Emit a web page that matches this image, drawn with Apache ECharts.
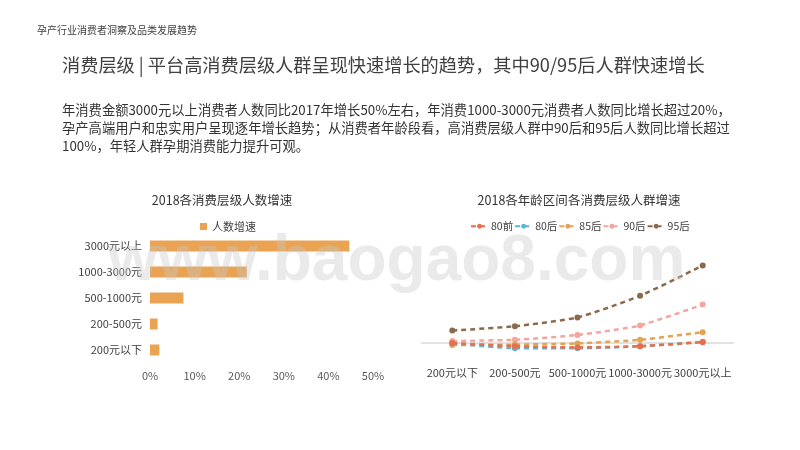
<!DOCTYPE html>
<html>
<head>
<meta charset="utf-8">
<script src="https://cdn.jsdelivr.net/npm/echarts@6/dist/echarts.min.js"></script>
<style>
html,body{margin:0;padding:0;background:#fff;}
#main{width:800px;height:450px;}
</style>
</head>
<body>
<div id="main"></div>
<script>
// ---- data ----
var barCategories = ['200元以下', '200-500元', '500-1000元', '1000-3000元', '3000元以上'];
var barName = '人数增速';
var barValues = [2.1, 1.7, 7.5, 21.7, 44.7];
var barTicks = [0, 10, 20, 30, 40, 50];

var lineCategories = ['200元以下', '200-500元', '500-1000元', '1000-3000元', '3000元以上'];
var lineNames = ['80前', '80后', '85后', '90后', '95后'];
var s80qian = [0, -8, -11, -8, 2];
var s80hou = [-1, -13, -13, -8, 3];
var s85hou = [-5, -4, -1, 8, 27];
var s90hou = [5, 8, 20, 44, 96];
var s95hou = [31, 42, 64, 118, 194];

var headerText = '孕产行业消费者洞察及品类发展趋势';
var titleText = '消费层级 | 平台高消费层级人群呈现快速增长的趋势，其中90/95后人群快速增长';
var paraLines = [
  '年消费金额3000元以上消费者人数同比2017年增长50%左右，年消费1000-3000元消费者人数同比增长超过20%，',
  '孕产高端用户和忠实用户呈现逐年增长趋势；从消费者年龄段看，高消费层级人群中90后和95后人数同比增长超过',
  '100%，年轻人群孕期消费能力提升可观。'
];
var leftTitle = '2018各消费层级人数增速';
var rightTitle = '2018各年龄区间各消费层级人群增速';
var watermark = 'www.baogao8.com';

// ---- chart ----
var FONT = '"Noto Sans CJK SC", "Noto Sans", sans-serif';
var lineColors = ['#e6704b', '#5bb4d6', '#e3a353', '#f3a59f', '#8b6a4c'];
var lineData = [s80qian, s80hou, s85hou, s90hou, s95hou];

var chart = echarts.init(document.getElementById('main'), null, {renderer: 'canvas'});

var lineSeries = lineNames.map(function (n, i) {
  var s = {
    name: n,
    type: 'line',
    xAxisIndex: 1,
    yAxisIndex: 1,
    data: lineData[i],
    symbol: 'circle',
    symbolSize: 6,
    smooth: 0.2,
    itemStyle: {color: lineColors[i]},
    lineStyle: {color: lineColors[i], width: 2.5, type: [5, 4]},
    z: 3 + (4 - i)
  };
  if (i === 0) {
    s.markLine = {
      silent: true,
      symbol: 'none',
      label: {show: false},
      lineStyle: {color: '#d9d9d9', width: 1.5, type: 'solid'},
      data: [{yAxis: 0}],
      z: 1
    };
  }
  return s;
});

var graphics = [
  {type: 'text', x: 37, y: 30, style: {text: headerText, font: '10px ' + FONT, fill: '#404040', textVerticalAlign: 'middle'}},
  {type: 'text', x: 62, y: 65, style: {text: titleText, font: '18.2px ' + FONT, fill: '#404040', textVerticalAlign: 'middle'}},
  {type: 'text', x: 222, y: 200, style: {text: leftTitle, font: '12.5px ' + FONT, fill: '#333', textAlign: 'center', textVerticalAlign: 'middle'}},
  {type: 'text', x: 579, y: 200, style: {text: rightTitle, font: '12.5px ' + FONT, fill: '#333', textAlign: 'center', textVerticalAlign: 'middle'}}
];
paraLines.forEach(function (t, i) {
  graphics.push({type: 'text', x: 62, y: 110 + i * 17.8, style: {text: t, font: '13.3px ' + FONT, fill: '#333', textVerticalAlign: 'middle'}});
});
graphics.push({
  type: 'text', x: 108, y: 230, z: 100, silent: true,
  style: {text: watermark, font: 'bold 64px "Liberation Sans", Arial, sans-serif', fill: 'rgba(200,200,200,0.38)', textVerticalAlign: 'top'}
});

var option = {
  backgroundColor: '#ffffff',
  animation: false,
  textStyle: {fontFamily: FONT},
  graphic: graphics,
  legend: [
    {
      data: [barName],
      left: 195, top: 216,
      icon: 'rect', itemWidth: 7, itemHeight: 7,
      textStyle: {fontSize: 11, color: '#404040', fontFamily: FONT}
    },
    {
      data: lineNames,
      left: 465, top: 216,
      itemWidth: 17, itemHeight: 6, itemGap: 1,
      textStyle: {fontSize: 10.5, color: '#404040', fontFamily: FONT, padding: [0, 0, 0, -2]}
    }
  ],
  grid: [
    {left: 150, right: 427, top: 233, bottom: 87},
    {left: 421, right: 66, top: 247, bottom: 91}
  ],
  xAxis: [
    {
      type: 'value', gridIndex: 0, min: barTicks[0], max: barTicks[barTicks.length - 1], interval: 10,
      axisLine: {show: false}, axisTick: {show: false}, splitLine: {show: false},
      axisLabel: {formatter: '{value}%', color: '#595959', fontSize: 11, margin: 7, fontFamily: FONT}
    },
    {
      type: 'category', gridIndex: 1, data: lineCategories, boundaryGap: true,
      axisLine: {show: false}, axisTick: {show: false}, splitLine: {show: false},
      axisLabel: {color: '#404040', fontSize: 11, margin: 8, interval: 0, fontFamily: FONT}
    }
  ],
  yAxis: [
    {
      type: 'category', gridIndex: 0, data: barCategories,
      axisLine: {show: false}, axisTick: {show: false},
      axisLabel: {color: '#404040', fontSize: 11, margin: 8, fontFamily: FONT}
    },
    {
      type: 'value', gridIndex: 1, min: -40, max: 240, show: false,
      splitLine: {show: false}
    }
  ],
  series: [
    {
      name: barName, type: 'bar', xAxisIndex: 0, yAxisIndex: 0,
      data: barValues, barWidth: 11,
      itemStyle: {color: '#e9a352'}
    }
  ].concat(lineSeries)
};
chart.setOption(option);
</script>
</body>
</html>
